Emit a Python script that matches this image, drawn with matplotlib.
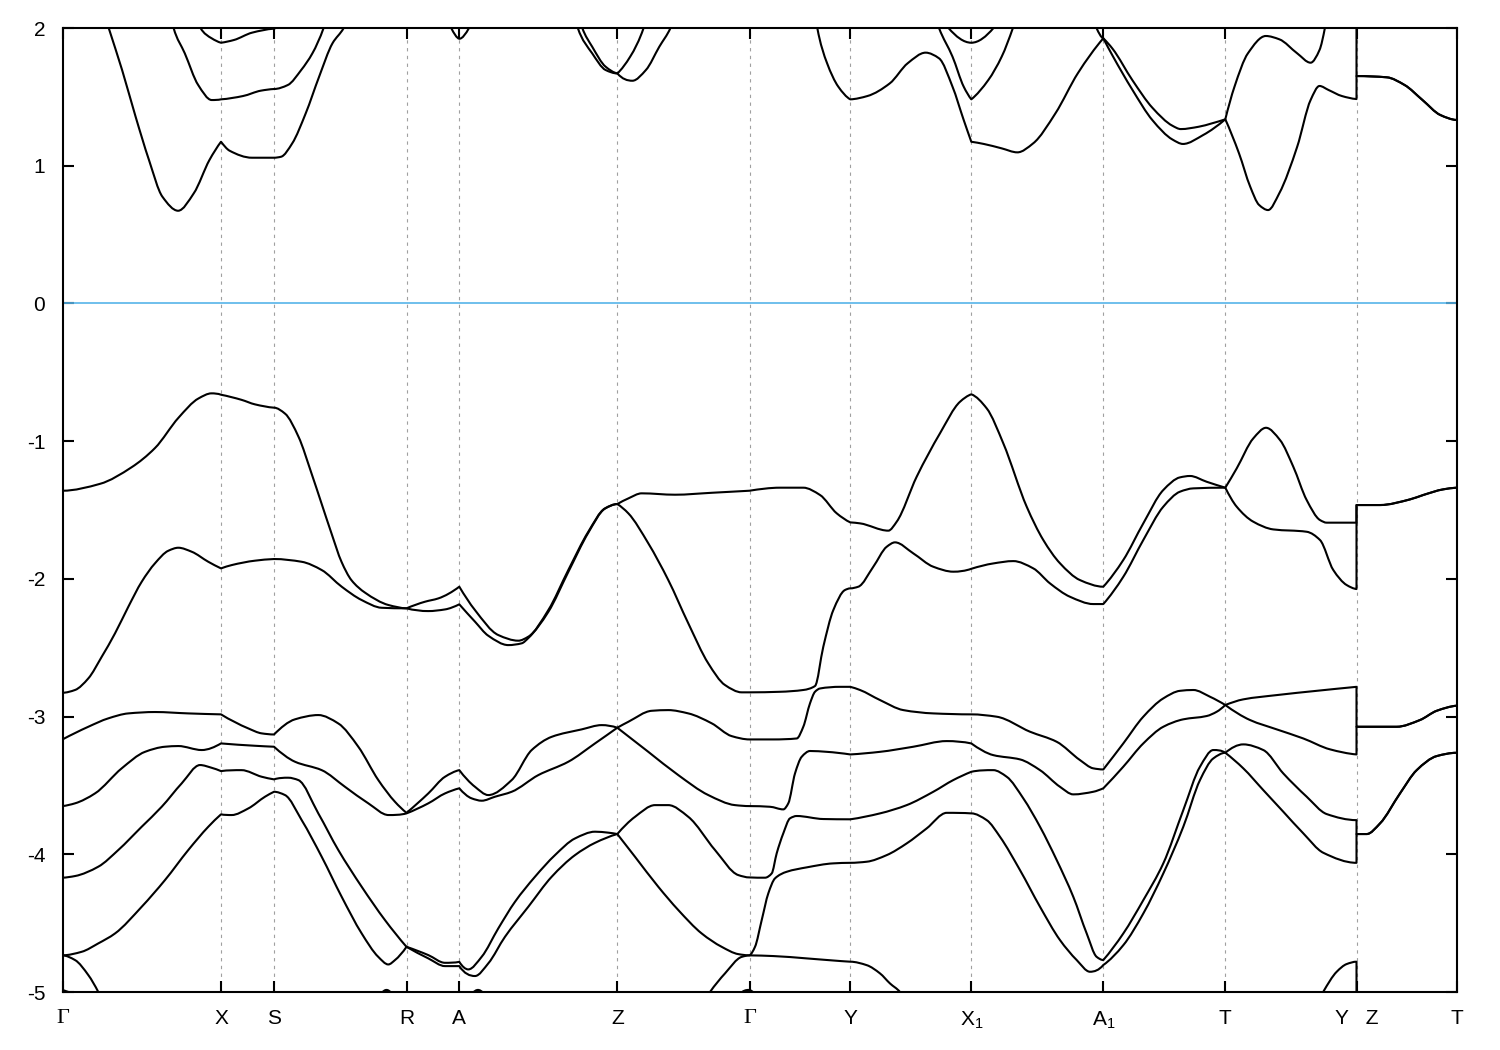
import numpy as np
import matplotlib
matplotlib.use('Agg')
import matplotlib.pyplot as plt
from matplotlib.path import Path
from matplotlib.patches import PathPatch

plt.rcParams['font.family'] = ['Liberation Sans', 'DejaVu Sans']
plt.rcParams['axes.unicode_minus'] = False
plt.rcParams['mathtext.fontset'] = 'custom'
plt.rcParams['mathtext.rm'] = 'Liberation Sans'

nan = np.nan

# high symmetry points along the path (k distance) and their labels
kpoint_pos = [0.0, 1.585, 2.115, 3.44, 3.968, 5.548, 6.87, 7.878, 9.088, 10.408, 11.628, 12.94, 13.94]
kpoint_labels = ['Γ', 'X', 'S', 'R', 'A', 'Z', 'Γ', 'Y', r'$\mathregular{X_1}$', r'$\mathregular{A_1}$',
                 'T', 'Y   Z', 'T']

# valence bands (k, E in eV)
vb1 = [(0, -1.36), (0.375, -1.31), (0.69, -1.19), (0.925, -1.05), (1.16, -0.83), (1.36, -0.69), (1.49, -0.653),
       (1.585, -0.663), (1.79, -0.70), (1.925, -0.733), (2.115, -0.757), (2.225, -0.80), (2.36, -0.968),
       (2.49, -1.234), (2.59, -1.452), (2.69, -1.67), (2.79, -1.876), (2.89, -2.01), (3.025, -2.10), (3.26, -2.19),
       (3.44, -2.214), (3.625, -2.166), (3.758, -2.142), (3.968, -2.057), (4.125, -2.227), (4.358, -2.408),
       (4.558, -2.449), (4.658, -2.42), (4.858, -2.227), (5.058, -1.936), (5.258, -1.658), (5.425, -1.488),
       (5.548, -1.457), (5.658, -1.416), (5.792, -1.379), (6.125, -1.389), (6.492, -1.375), (6.87, -1.36),
       (7.175, -1.338), (7.408, -1.338), (7.575, -1.391), (7.742, -1.524), (7.878, -1.59), (7.975, -1.597),
       (8.258, -1.65), (8.342, -1.585), (8.542, -1.258), (8.775, -0.943), (8.975, -0.714), (9.088, -0.66),
       (9.242, -0.762), (9.408, -1.016), (9.642, -1.476), (9.808, -1.718), (9.975, -1.887), (10.175, -2.009),
       (10.408, -2.057), (10.608, -1.863), (10.808, -1.597), (11.008, -1.355), (11.175, -1.263), (11.275, -1.253),
       (11.442, -1.295), (11.628, -1.338), (11.742, -1.198), (11.908, -0.98), (12.035, -0.903), (12.175, -0.992),
       (12.308, -1.186), (12.442, -1.428), (12.575, -1.573), (12.642, -1.592), (12.94, -1.592), (12.94, -1.464),
       (13.175, -1.464), (13.475, -1.423), (13.608, -1.391), (13.808, -1.35), (13.94, -1.338)]

vb2 = [(0, -2.827), (0.125, -2.807), (0.258, -2.723), (0.392, -2.566), (0.525, -2.396), (0.658, -2.203),
       (0.792, -2.021), (0.925, -1.887), (1.058, -1.796), (1.158, -1.774), (1.292, -1.803), (1.458, -1.876),
       (1.585, -1.924), (1.692, -1.90), (1.925, -1.868), (2.115, -1.856), (2.392, -1.876), (2.592, -1.936),
       (2.792, -2.057), (2.992, -2.154), (3.192, -2.21), (3.44, -2.214), (3.658, -2.234), (3.825, -2.222),
       (3.968, -2.185), (4.125, -2.311), (4.258, -2.413), (4.458, -2.481), (4.592, -2.468), (4.658, -2.43),
       (4.858, -2.24), (5.058, -1.95), (5.258, -1.665), (5.425, -1.49), (5.548, -1.457), (5.658, -1.524),
       (5.858, -1.742), (6.058, -2.009), (6.258, -2.323), (6.458, -2.614), (6.625, -2.771), (6.792, -2.824),
       (6.87, -2.824), (7.175, -2.82), (7.408, -2.807), (7.525, -2.778), (7.608, -2.493), (7.708, -2.227),
       (7.825, -2.081), (7.878, -2.069), (7.958, -2.057), (8.108, -1.912), (8.242, -1.767), (8.325, -1.735),
       (8.508, -1.815), (8.708, -1.912), (8.908, -1.948), (9.088, -1.927), (9.308, -1.888), (9.508, -1.871),
       (9.708, -1.924), (9.875, -2.033), (10.075, -2.13), (10.308, -2.183), (10.408, -2.183), (10.608, -1.985),
       (10.808, -1.718), (11.008, -1.476), (11.175, -1.367), (11.308, -1.343), (11.628, -1.338), (11.742, -1.476),
       (11.908, -1.585), (12.108, -1.641), (12.442, -1.658), (12.575, -1.718), (12.708, -1.936), (12.842, -2.045),
       (12.94, -2.074), (12.94, -1.464), (13.175, -1.464), (13.475, -1.423), (13.608, -1.391), (13.808, -1.35),
       (13.94, -1.338)]

vb3 = [(0, -3.166), (0.258, -3.074), (0.458, -3.013), (0.658, -2.977), (0.925, -2.967), (1.258, -2.977),
       (1.585, -2.984), (1.858, -3.086), (1.992, -3.122), (2.115, -3.13), (2.325, -3.02), (2.558, -2.989),
       (2.758, -3.05), (2.958, -3.219), (3.158, -3.461), (3.325, -3.619), (3.44, -3.699), (3.658, -3.558),
       (3.825, -3.437), (3.968, -3.389), (4.125, -3.51), (4.258, -3.57), (4.492, -3.461), (4.692, -3.243),
       (4.892, -3.147), (5.192, -3.093), (5.392, -3.062), (5.548, -3.081), (5.658, -3.038), (5.892, -2.958),
       (6.058, -2.953), (6.258, -2.977), (6.492, -3.049), (6.692, -3.142), (6.87, -3.166), (7.108, -3.166),
       (7.342, -3.159), (7.408, -3.074), (7.475, -2.904), (7.525, -2.82), (7.575, -2.796), (7.775, -2.784),
       (7.878, -2.784), (7.975, -2.807), (8.175, -2.88), (8.408, -2.953), (8.708, -2.977), (9.088, -2.984),
       (9.342, -3.001), (9.675, -3.11), (9.942, -3.183), (10.175, -3.316), (10.308, -3.376), (10.408, -3.384),
       (10.608, -3.195), (10.808, -3.001), (11.008, -2.868), (11.175, -2.813), (11.308, -2.807), (11.475, -2.856),
       (11.628, -2.916), (11.808, -2.875), (12.142, -2.844), (12.542, -2.813), (12.94, -2.784), (12.94, -3.074),
       (13.042, -3.074), (13.342, -3.074), (13.575, -3.025), (13.742, -2.958), (13.94, -2.921)]

vb4 = [(0, -3.65), (0.125, -3.63), (0.325, -3.558), (0.592, -3.376), (0.825, -3.256), (1.025, -3.219),
       (1.158, -3.214), (1.392, -3.243), (1.585, -3.195), (1.925, -3.212), (2.115, -3.219), (2.325, -3.328),
       (2.592, -3.389), (2.825, -3.51), (3.058, -3.63), (3.26, -3.715), (3.44, -3.703), (3.658, -3.63),
       (3.825, -3.558), (3.968, -3.521), (4.092, -3.594), (4.192, -3.611), (4.325, -3.582), (4.492, -3.546),
       (4.758, -3.425), (5.058, -3.328), (5.325, -3.195), (5.548, -3.081), (5.858, -3.256), (6.158, -3.425),
       (6.458, -3.57), (6.725, -3.643), (6.87, -3.65), (7.075, -3.655), (7.208, -3.674), (7.258, -3.63),
       (7.325, -3.413), (7.392, -3.292), (7.475, -3.25), (7.642, -3.256), (7.878, -3.275), (8.175, -3.256),
       (8.508, -3.219), (8.842, -3.178), (9.088, -3.195), (9.308, -3.28), (9.575, -3.311), (9.775, -3.389),
       (9.975, -3.51), (10.108, -3.565), (10.308, -3.546), (10.408, -3.521), (10.608, -3.364), (10.808, -3.195),
       (11.008, -3.074), (11.208, -3.02), (11.442, -2.996), (11.542, -2.965), (11.628, -2.916), (11.875, -3.025),
       (12.142, -3.093), (12.408, -3.159), (12.675, -3.238), (12.94, -3.275), (12.94, -3.074), (13.042, -3.074),
       (13.342, -3.074), (13.575, -3.025), (13.742, -2.958), (13.94, -2.921)]

vb5 = [(0, -4.17), (0.125, -4.158), (0.358, -4.09), (0.558, -3.969), (0.792, -3.80), (0.992, -3.655),
       (1.192, -3.485), (1.375, -3.352), (1.492, -3.372), (1.585, -3.396), (1.79, -3.389), (1.992, -3.437),
       (2.115, -3.456), (2.258, -3.444), (2.358, -3.461), (2.558, -3.703), (2.758, -3.969), (2.992, -4.236),
       (3.225, -4.478), (3.44, -4.672), (3.658, -4.732), (3.825, -4.788), (3.968, -4.781), (4.058, -4.836),
       (4.192, -4.744), (4.358, -4.538), (4.525, -4.345), (4.725, -4.163), (4.925, -4.006), (5.125, -3.885),
       (5.325, -3.836), (5.458, -3.843), (5.548, -3.853), (5.725, -3.728), (5.925, -3.643), (6.058, -3.643),
       (6.258, -3.728), (6.525, -3.969), (6.758, -4.151), (6.87, -4.168), (7.025, -4.17), (7.092, -4.139),
       (7.142, -3.993), (7.208, -3.848), (7.275, -3.739), (7.342, -3.722), (7.608, -3.744), (7.878, -3.746),
       (8.175, -3.703), (8.442, -3.643), (8.708, -3.546), (8.908, -3.461), (9.088, -3.401), (9.308, -3.389),
       (9.442, -3.437), (9.608, -3.594), (9.775, -3.80), (9.942, -4.042), (10.108, -4.309), (10.242, -4.575),
       (10.342, -4.745), (10.408, -4.768), (10.608, -4.575), (10.808, -4.333), (11.008, -4.066), (11.208, -3.679),
       (11.375, -3.364), (11.508, -3.243), (11.628, -3.263), (11.808, -3.202), (12.008, -3.243), (12.208, -3.413),
       (12.442, -3.582), (12.642, -3.708), (12.94, -3.752), (12.94, -3.853), (13.042, -3.853), (13.175, -3.776),
       (13.375, -3.558), (13.542, -3.389), (13.742, -3.287), (13.94, -3.263)]

vb6 = [(0, -4.734), (0.192, -4.708), (0.358, -4.647), (0.525, -4.575), (0.792, -4.381), (1.025, -4.187),
       (1.258, -3.969), (1.458, -3.80), (1.585, -3.71), (1.692, -3.715), (1.858, -3.667), (2.025, -3.582),
       (2.115, -3.546), (2.225, -3.57), (2.392, -3.752), (2.592, -4.018), (2.792, -4.309), (2.992, -4.575),
       (3.158, -4.745), (3.258, -4.80), (3.325, -4.768), (3.44, -4.672), (3.658, -4.756), (3.825, -4.812),
       (3.968, -4.812), (4.125, -4.884), (4.258, -4.792), (4.425, -4.599), (4.658, -4.381), (4.892, -4.163),
       (5.125, -4.006), (5.325, -3.917), (5.548, -3.853), (5.725, -4.018), (5.958, -4.236), (6.158, -4.405),
       (6.392, -4.575), (6.592, -4.672), (6.758, -4.725), (6.87, -4.734), (6.925, -4.672), (6.992, -4.478),
       (7.058, -4.284), (7.125, -4.175), (7.242, -4.127), (7.442, -4.095), (7.708, -4.066), (7.878, -4.062),
       (8.042, -4.054), (8.242, -4.006), (8.442, -3.921), (8.642, -3.812), (8.842, -3.699), (9.088, -3.703),
       (9.242, -3.752), (9.375, -3.873), (9.575, -4.115), (9.775, -4.381), (9.975, -4.623), (10.142, -4.768),
       (10.275, -4.853), (10.408, -4.804), (10.608, -4.66), (10.808, -4.43), (11.008, -4.139), (11.208, -3.80),
       (11.375, -3.461), (11.508, -3.304), (11.628, -3.263), (11.808, -3.376), (12.008, -3.534), (12.208, -3.691),
       (12.408, -3.848), (12.608, -3.989), (12.94, -4.062), (12.94, -3.853), (13.042, -3.853), (13.175, -3.776),
       (13.375, -3.558), (13.542, -3.389), (13.742, -3.287), (13.94, -3.263)]

vb7 = [(0, -4.734), (0.125, -4.768), (0.258, -4.877), (0.358, -5.0), (0.45, -5.15), (nan, nan),
       (6.35, -5.15), (6.475, -5.0), (6.625, -4.865), (6.792, -4.745), (6.87, -4.734), (7.108, -4.739),
       (7.442, -4.756), (7.775, -4.775), (7.878, -4.78), (8.042, -4.805), (8.175, -4.865), (8.275, -4.938),
       (8.375, -5.0), (8.45, -5.1), (nan, nan),
       (12.5, -5.15), (12.608, -4.998), (12.742, -4.853), (12.842, -4.797), (12.94, -4.78), (12.94, -5.2)]

vb8 = [(0, -4.985), (0.1, -5.01), (nan, nan), (3.19, -5.01), (3.24, -4.985), (3.29, -5.01), (nan, nan),
       (4.10, -5.01), (4.155, -4.985), (4.21, -5.01), (nan, nan), (6.78, -5.01), (6.86, -4.985), (6.92, -5.01)]

# conduction bands
cb1 = [(0.41, 2.12), (0.462, 2.0), (0.596, 1.695), (0.731, 1.356), (0.865, 1.041), (0.999, 0.775),
       (1.156, 0.673), (1.313, 0.80), (1.469, 1.041), (1.585, 1.174), (1.671, 1.109), (1.895, 1.058),
       (2.115, 1.058), (2.185, 1.065), (2.297, 1.162), (2.432, 1.38), (2.566, 1.646), (2.70, 1.889),
       (2.812, 2.0), (2.87, 2.1), (nan, nan),
       (3.85, 2.08), (3.887, 2.0), (3.968, 1.922), (4.065, 2.0), (4.10, 2.08), (nan, nan),
       (5.17, 2.08), (5.198, 2.0), (5.297, 1.864), (5.431, 1.719), (5.548, 1.671), (5.699, 1.617),
       (5.834, 1.695), (5.968, 1.864), (6.08, 2.0), (6.12, 2.08), (nan, nan),
       (7.53, 2.1), (7.548, 2.0), (7.646, 1.744), (7.758, 1.574), (7.878, 1.482), (8.049, 1.506),
       (8.273, 1.598), (8.452, 1.744), (8.631, 1.821), (8.765, 1.78), (8.90, 1.574), (9.012, 1.332),
       (9.088, 1.174), (9.213, 1.158), (9.392, 1.126), (9.549, 1.097), (9.706, 1.162), (9.929, 1.38),
       (10.153, 1.671), (10.408, 1.925), (10.5, 1.80), (10.7, 1.55), (10.9, 1.33), (11.1, 1.19),
       (11.205, 1.158), (11.407, 1.223), (11.628, 1.337), (11.765, 1.09), (11.877, 0.848), (11.966, 0.715),
       (12.056, 0.678), (12.168, 0.80), (12.347, 1.138), (12.481, 1.477), (12.57, 1.579), (12.66, 1.55),
       (12.794, 1.506), (12.94, 1.484), (12.94, 1.651), (13.242, 1.642), (13.421, 1.586), (13.60, 1.477),
       (13.779, 1.368), (13.94, 1.332)]

cb2 = [(1.09, 2.08), (1.111, 2.0), (1.223, 1.816), (1.357, 1.586), (1.492, 1.477), (1.585, 1.482),
       (1.805, 1.506), (1.984, 1.545), (2.115, 1.557), (2.253, 1.586), (2.387, 1.695), (2.499, 1.816),
       (2.611, 2.0), (2.64, 2.07), (nan, nan),
       (5.13, 2.08), (5.153, 2.0), (5.297, 1.816), (5.431, 1.695), (5.548, 1.67), (5.677, 1.792),
       (5.811, 2.0), (5.84, 2.08), (nan, nan),
       (8.73, 2.08), (8.765, 2.0), (8.90, 1.792), (9.012, 1.574), (9.088, 1.482), (9.258, 1.622),
       (9.392, 1.792), (9.504, 2.0), (9.54, 2.08), (nan, nan),
       (10.30, 2.1), (10.34, 2.0), (10.408, 1.925), (10.5, 1.85), (10.7, 1.62), (10.9, 1.42), (11.1, 1.29),
       (11.183, 1.266), (11.362, 1.283), (11.496, 1.308), (11.628, 1.337), (11.72, 1.574), (11.854, 1.816),
       (12.033, 1.942), (12.168, 1.918), (12.347, 1.816), (12.481, 1.748), (12.57, 1.84), (12.624, 2.0),
       (12.64, 2.07), (nan, nan),
       (12.94, 2.1), (12.94, 1.651), (13.242, 1.642), (13.421, 1.586), (13.60, 1.477), (13.779, 1.368),
       (13.94, 1.332)]

cb3 = [(1.36, 2.05), (1.38, 2.0), (1.492, 1.925), (1.585, 1.893), (1.715, 1.913), (1.895, 1.966),
       (2.115, 1.995), (2.2, 2.02), (nan, nan),
       (8.84, 2.03), (8.86, 2.0), (9.088, 1.893), (9.31, 2.0), (9.33, 2.03)]

bands = [vb1, vb2, vb3, vb4, vb5, vb6, vb7, vb8, cb1, cb2, cb3]


def hermite_slopes(x, y):
    # shape preserving slopes (Fritsch-Carlson style) so the curve does not overshoot
    h = np.diff(x)
    d = np.diff(y) / h
    n = len(x)
    m = np.zeros(n)
    if n == 2:
        m[:] = d[0]
        return m
    for i in range(1, n - 1):
        if d[i - 1] * d[i] <= 0:
            m[i] = 0.0
        else:
            w1 = 2 * h[i] + h[i - 1]
            w2 = h[i] + 2 * h[i - 1]
            m[i] = (w1 + w2) / (w1 / d[i - 1] + w2 / d[i])

    def end_slope(h0, h1, d0, d1):
        s = ((2 * h0 + h1) * d0 - h0 * d1) / (h0 + h1)
        if np.sign(s) != np.sign(d0):
            s = 0.0
        elif np.sign(d0) != np.sign(d1) and abs(s) > abs(3 * d0):
            s = 3 * d0
        return s

    m[0] = end_slope(h[0], h[1], d[0], d[1])
    m[-1] = end_slope(h[-1], h[-2], d[-1], d[-2])
    return m


def is_kpoint(k):
    return any(abs(k - p) < 1e-9 for p in kpoint_pos)


def band_path(points):
    pts = np.array(points, dtype=float)
    verts, codes = [], []
    runs, cur = [], []
    for p in pts:
        if np.isnan(p[0]):
            if cur:
                runs.append(np.array(cur))
            cur = []
        else:
            cur.append(p)
    if cur:
        runs.append(np.array(cur))

    for run in runs:
        verts.append(run[0])
        codes.append(Path.MOVETO)
        pieces = []
        start = 0
        for j in range(1, len(run)):
            if run[j, 0] == run[j - 1, 0]:
                pieces.append(('curve', start, j - 1))
                pieces.append(('line', j - 1, j))
                start = j
            elif is_kpoint(run[j, 0]) and j != len(run) - 1:
                pieces.append(('curve', start, j))
                start = j
        pieces.append(('curve', start, len(run) - 1))

        for kind, a, b in pieces:
            if b <= a:
                continue
            if kind == 'line':
                verts.append(run[b])
                codes.append(Path.LINETO)
                continue
            seg = run[a:b + 1]
            x, y = seg[:, 0], seg[:, 1]
            m = hermite_slopes(x, y)
            for i in range(len(x) - 1):
                h = x[i + 1] - x[i]
                verts.append((x[i] + h / 3, y[i] + m[i] * h / 3))
                verts.append((x[i + 1] - h / 3, y[i + 1] - m[i + 1] * h / 3))
                verts.append((x[i + 1], y[i + 1]))
                codes += [Path.CURVE4] * 3
    return Path(verts, codes)


fig = plt.figure(figsize=(15, 10.5), dpi=100)
ax = fig.add_axes([62.5 / 1500, 1 - 992 / 1050, (1456.5 - 62.5) / 1500, (992 - 28) / 1050])

# dotted lines at the interior high symmetry points
for k in kpoint_pos[1:-1]:
    ax.axvline(k, color='#a0a0a0', lw=0.8, dashes=(3, 4), zorder=1)

ax.axhline(0, color='#56b4e9', lw=1.2, zorder=2)

for band in bands:
    patch = PathPatch(band_path(band), facecolor='none', edgecolor='black', lw=1.5,
                      joinstyle='round', capstyle='round', zorder=3)
    ax.add_patch(patch)

ax.set_xlim(kpoint_pos[0], kpoint_pos[-1])
ax.set_ylim(-5, 2)
ax.set_xticks(kpoint_pos)
ax.set_xticklabels(kpoint_labels, fontsize=15)
ax.set_yticks(range(-5, 3))
ax.set_yticklabels([str(v) for v in range(-5, 3)], fontsize=15)
ax.tick_params(axis='both', direction='in', top=True, right=True, length=8, width=1.5)
ax.tick_params(axis='x', pad=12.5)
ax.tick_params(axis='y', pad=12.5)
for lbl in ax.get_xticklabels():
    if lbl.get_text() == 'Γ':
        lbl.set_fontfamily(['Liberation Serif', 'DejaVu Serif'])
        lbl.set_fontsize(16)
for spine in ax.spines.values():
    spine.set_linewidth(1.5)

fig.savefig('out.png', dpi=100)
